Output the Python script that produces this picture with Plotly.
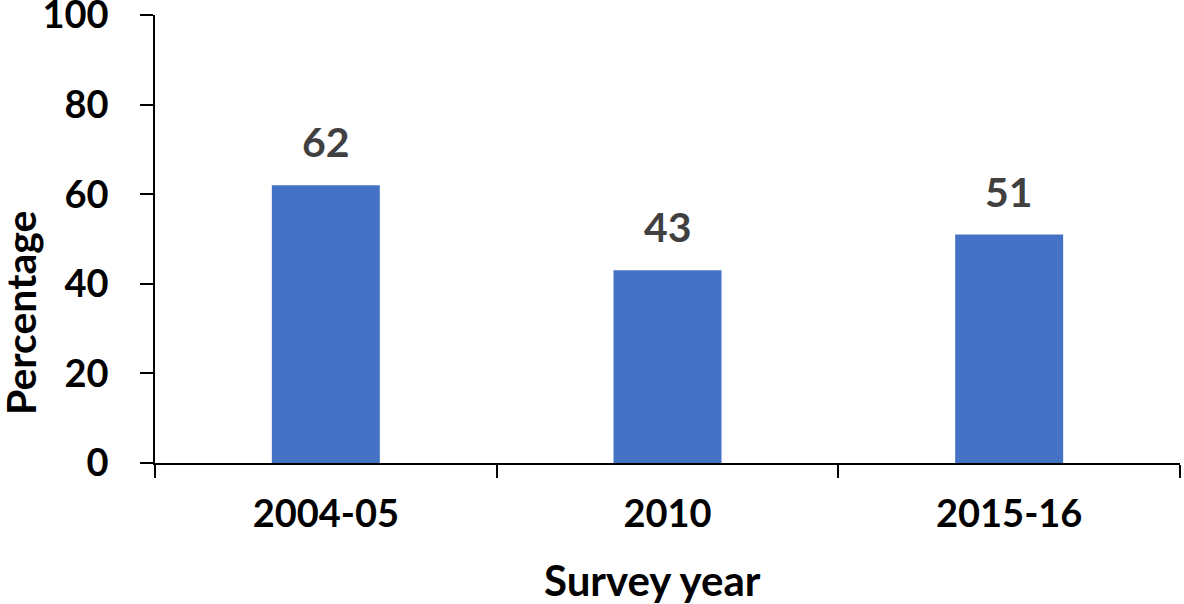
import plotly.graph_objects as go

categories = ["2004-05", "2010", "2015-16"]
values = [62, 43, 51]
y_ticks = [0, 20, 40, 60, 80, 100]

FONT = "Lato, Open Sans, sans-serif"

W, H = 1184, 604
ML, MR, MT, MB = 155, 4, 15, 141
plot_w = W - ML - MR
plot_h = H - MT - MB


def px_x(sx):  # screen pixel x -> paper fraction
    return (sx - ML) / plot_w


def px_y(sy):  # screen pixel y -> paper fraction
    return (H - MB - sy) / plot_h


fig = go.Figure()
fig.add_trace(go.Bar(
    x=categories, y=values, width=0.316,
    marker=dict(color="#4472C4", line=dict(width=0)),
    hoverinfo="skip",
))
for i, v in enumerate(values):
    fig.add_annotation(x=i, y=v, xref="x", yref="y", text=f"<b>{v}</b>", showarrow=False,
                       yanchor="bottom", yshift=17,
                       font=dict(family=FONT, size=41, color="#404040"))

# axis titles
fig.add_annotation(x=px_x(652), xref="paper", xanchor="center",
                   y=px_y(580), yref="paper", yanchor="middle",
                   text="<b>Survey year</b>", showarrow=False,
                   font=dict(family=FONT, size=42, color="black"))
fig.add_annotation(x=px_x(20), xref="paper", xanchor="center",
                   y=px_y(313), yref="paper", yanchor="middle",
                   text="<b>Percentage</b>", showarrow=False, textangle=-90,
                   font=dict(family=FONT, size=41, color="black"))

fig.update_layout(
    width=W, height=H,
    margin=dict(l=ML, r=MR, t=MT, b=MB),
    plot_bgcolor="white", paper_bgcolor="white",
    showlegend=False,
    font=dict(family=FONT, color="black"),
    xaxis=dict(
        type="category", range=[-0.5, 2.5], automargin=False,
        showline=True, linecolor="black", linewidth=2,
        ticks="outside", tickson="boundaries", ticklen=13, tickwidth=2, tickcolor="black",
        tickfont=dict(family=FONT, size=38, color="black", weight="bold"),
        ticklabelstandoff=16,
        showgrid=False, zeroline=False,
    ),
    yaxis=dict(
        range=[0, 100], tickvals=y_ticks, automargin=False,
        showline=True, linecolor="black", linewidth=1.5,
        ticks="outside", ticklen=13, tickwidth=1.5, tickcolor="black",
        tickfont=dict(family=FONT, size=38, color="black", weight="bold"),
        ticklabelstandoff=24, ticklabeloverflow="allow",
        showgrid=False, zeroline=False,
    ),
)
fig.write_html("out.html", config={"displayModeBar": False},
               post_script="document.body.style.margin='0';document.body.style.overflow='hidden';")
